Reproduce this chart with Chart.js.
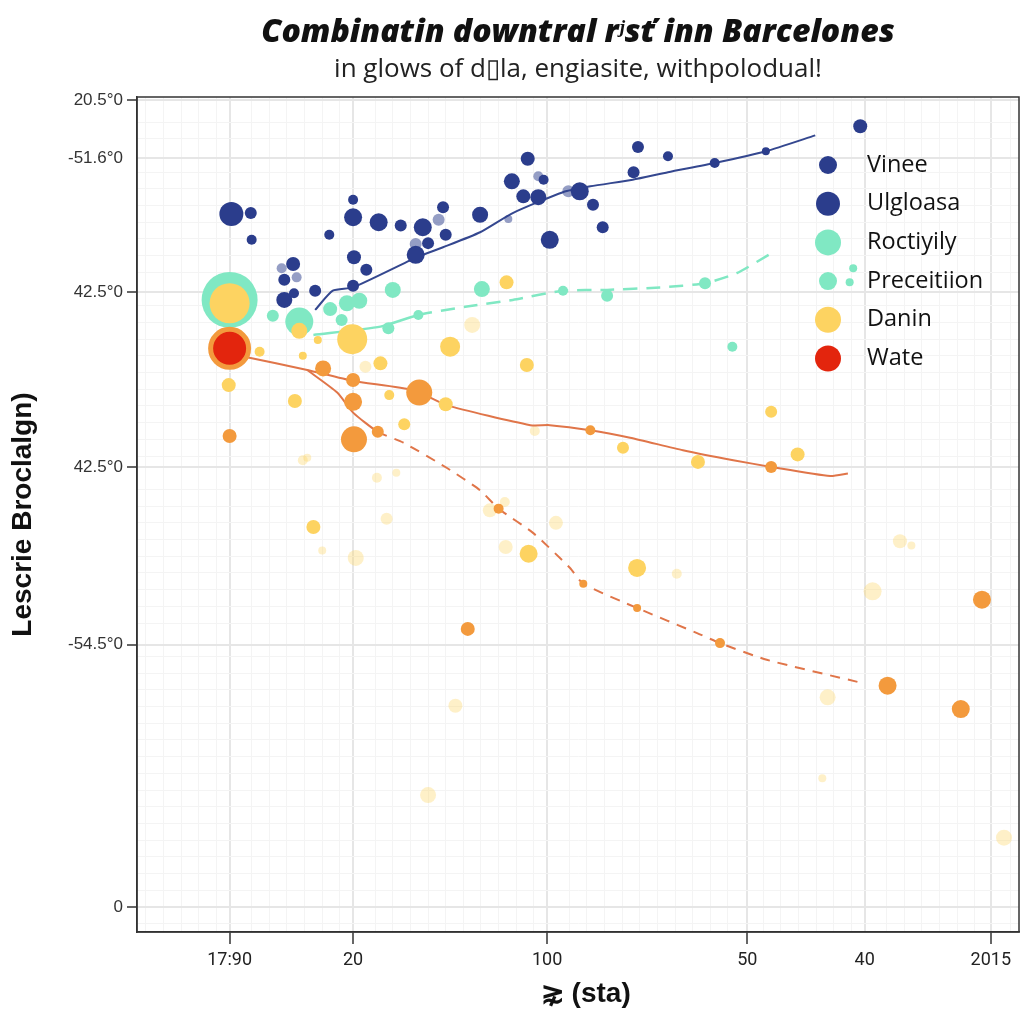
<!DOCTYPE html>
<html>
<head>
<meta charset="utf-8">
<script src="https://cdn.jsdelivr.net/npm/chart.js@4.4.1/dist/chart.umd.min.js"></script>
<style>
  html, body { margin: 0; padding: 0; background: #fff; }
  #wrap { width: 1024px; height: 1024px; }
</style>
</head>
<body>
<div id="wrap"><canvas id="chart" width="1024" height="1024"></canvas></div>
<script>
// axis ticks
const xTickValues = [10.5, 24.5, 46.5, 69.2, 82.5, 96.8];
const xTickLabels = ["17:90", "20", "100", "50", "40", "2015"];
const yTickValues = [99.6, 92.7, 76.6, 55.7, 34.4, 3.0];
const yTickLabels = ["20.5°0", "-51.6°0", "42.5°0", "42.5°0", "-54.5°0", "0"];

// Vinee (small navy)
const vineeX = [12.9, 13.0, 21.8, 24.5, 29.9, 34.7, 33.0, 35.0, 46.1, 51.7, 52.8, 26.0, 24.5, 20.2, 16.7, 17.8, 56.8, 60.2, 56.3, 65.5, 71.3];
const vineeY = [86.1, 82.9, 83.5, 87.7, 84.6, 86.8, 82.5, 83.5, 90.1, 87.1, 84.4, 79.3, 77.4, 76.8, 78.1, 76.5, 94.0, 92.9, 91.0, 92.1, 93.5];
const vineeR = [6, 5, 5, 5, 6, 6, 6, 6, 5, 6, 6, 6, 6, 6, 6, 5, 6, 5, 6, 5, 4];

// Ulgloasa (large navy)
const ulgX = [10.7, 24.5, 27.4, 32.4, 31.6, 38.9, 44.3, 42.5, 43.8, 45.5, 46.8, 50.2, 24.6, 17.7, 16.7, 82.0];
const ulgY = [86.0, 85.6, 85.0, 84.4, 81.1, 85.9, 92.6, 89.9, 88.1, 88.0, 82.9, 88.7, 80.8, 80.0, 75.7, 96.5];
const ulgR = [12, 9, 9, 9, 9, 8, 7, 8, 7, 8, 9, 9, 7, 7, 8, 7];

// faded navy
const navyFadeX = [34.2, 31.6, 42.1, 45.5, 48.9, 16.4, 18.1];
const navyFadeY = [85.3, 82.4, 85.4, 90.5, 88.7, 79.5, 78.4];
const navyFadeR = [6, 6, 4, 5, 6, 5, 5];

// Roctiyily (large mint)
const roctX = [10.5, 18.4, 29.0, 39.1, 23.8, 25.2];
const roctY = [75.7, 73.1, 76.9, 77.0, 75.3, 75.6];
const roctR = [28, 14, 8, 8, 8, 8];

// Preceitiion (small mint)
const precX = [15.4, 21.9, 23.2, 31.9, 28.5, 48.3, 53.3, 64.4, 67.5, 81.2, 80.8];
const precY = [73.8, 74.6, 73.3, 73.9, 72.3, 76.8, 76.2, 77.7, 70.1, 79.5, 77.8];
const precR = [6, 7, 6, 5, 6, 5, 6, 6, 5, 4, 4];

// Danin (yellow)
const daninX = [10.5, 24.4, 35.5, 41.9, 44.2, 27.6, 18.8, 20.5, 10.4, 17.9, 35.0, 28.6, 30.3, 55.1, 63.6, 71.9, 74.9, 13.9, 20.0, 44.4, 56.7, 18.4];
const daninY = [75.3, 71.0, 70.1, 77.8, 67.9, 68.1, 69.0, 70.9, 65.5, 63.6, 63.2, 64.3, 60.8, 58.0, 56.3, 62.3, 57.2, 69.5, 48.5, 45.3, 43.6, 72.0];
const daninR = [20, 15, 10, 7, 7, 7, 4, 4, 7, 7, 7, 5, 6, 6, 7, 6, 7, 5, 7, 9, 9, 8];

// pale yellow
const paleX = [38.0, 45.1, 25.9, 18.8, 21.0, 24.8, 28.3, 27.2, 29.4, 19.3, 40.0, 41.7, 41.8, 47.5, 61.2, 36.1, 86.5, 87.8, 83.4, 78.3, 33.0, 77.7, 98.3];
const paleY = [72.7, 60.0, 67.7, 56.5, 45.7, 44.8, 49.5, 54.4, 55.0, 56.8, 50.5, 51.5, 46.1, 49.0, 42.9, 27.1, 46.8, 46.3, 40.8, 28.1, 16.4, 18.4, 11.3];
const paleR = [8, 5, 6, 5, 4, 8, 6, 5, 4, 4, 7, 5, 7, 7, 5, 7, 7, 4, 9, 8, 8, 4, 8];

// orange
const orangeX = [21.1, 24.5, 32.0, 24.5, 10.5, 24.6, 27.3, 51.4, 71.9, 41.0, 37.5, 50.6, 56.7, 66.1, 85.1, 93.4, 95.8];
const orangeY = [67.5, 66.1, 64.6, 63.5, 59.4, 59.0, 59.9, 60.1, 55.7, 50.7, 36.3, 41.7, 38.8, 34.6, 29.5, 26.7, 39.8];
const orangeR = [8, 7, 13, 9, 7, 13, 6, 5, 6, 5, 7, 4, 4, 5, 9, 9, 9];

// Wate (red)
const wateX = [10.5];
const wateY = [69.9];
const wateR = [19];

// trend lines
const navyLineX = [20.2, 22.2, 24.5, 31.7, 34.7, 38.9, 42.6, 48.3, 51.4, 56.2, 60.2, 65.5, 71.3, 76.9];
const navyLineY = [74.5, 76.8, 77.2, 80.8, 82.0, 83.8, 86.1, 88.6, 89.3, 90.1, 91.0, 92.1, 93.5, 95.4];
const mintLineX = [20.0, 27.6, 31.9, 37.4, 42.6, 48.3, 53.3, 59.3, 64.4, 68.0, 72.1];
const mintLineY = [71.5, 72.5, 73.9, 74.9, 75.7, 76.8, 76.9, 77.2, 77.7, 78.9, 81.4];
const orangeLineX = [12.2, 19.3, 24.5, 31.3, 35.1, 44.6, 46.8, 51.4, 55.9, 61.9, 67.6, 71.9, 78.6, 80.6];
const orangeLineY = [68.9, 67.3, 66.0, 64.9, 63.1, 60.7, 60.7, 60.1, 59.2, 57.7, 56.5, 55.7, 54.6, 54.9];
const orangeDashX = [19.3, 22.7, 24.5, 27.3, 30.2, 35.1, 38.9, 41.0, 44.9, 49.1, 50.6, 56.7, 63.5, 66.1, 71.4, 82.3];
const orangeDashY = [67.3, 64.6, 62.2, 59.9, 58.6, 55.6, 52.9, 50.7, 47.8, 43.6, 41.7, 38.8, 35.8, 34.6, 32.6, 29.8];

const legendLabels = ["Vinee", "Ulgloasa", "Roctiyily", "Preceitiion", "Danin", "Wate"];

const NAVY = "#2b3d8c";
const MINT = "#80e8c3";
const YELLOW = "#fdd361";
const ORANGE = "#f39a3d";
const RED = "#e3250d";
const LINE_OR = "#e07549";

function pts(xs, ys, rs) {
  return xs.map((x, i) => rs ? { x: x, y: ys[i], r: rs[i] } : { x: x, y: ys[i] });
}

function ticksFor(values) {
  const list = values.map(v => ({ value: v, main: true }));
  for (let v = 1; v < 100; v += 2) {
    if (values.every(m => Math.abs(m - v) > 0.9)) list.push({ value: v, main: false });
  }
  return list.sort((a, b) => a.value - b.value);
}

function bubbleSet(label, data, color, order, border) {
  return {
    type: "bubble",
    label: label,
    data: data,
    backgroundColor: color,
    borderColor: border || color,
    borderWidth: border ? 5 : 0,
    order: order
  };
}

function lineSet(data, color, dash, order, width, solidUntil) {
  return {
    type: "line",
    data: data,
    borderColor: color,
    borderWidth: width || 2,
    borderDash: dash,
    segment: solidUntil ? { borderDash: c => (c.p0DataIndex < solidUntil ? [] : dash) } : undefined,
    pointRadius: 0,
    fill: false,
    tension: 0.2,
    order: order
  };
}

function noPad(s) {
  s.paddingLeft = 0;
  s.paddingRight = 0;
  s.paddingTop = 0;
  s.paddingBottom = 0;
}

const textPlugin = {
  id: "texts",
  beforeDraw(chart) {
    const c = chart.ctx;
    const a = chart.chartArea;
    const cx = (a.left + a.right) / 2;
    c.save();
    c.fillStyle = "#111";
    c.textAlign = "center";
    c.textBaseline = "middle";
    c.font = "italic 800 32px 'Open Sans'";
    c.fillText("Combinatin downtral r\u02B2s\u0165 inn Barcelones", cx, 33);
    c.font = "26px 'Open Sans'";
    c.fillStyle = "#222";
    c.fillText("in glows of d\u25AFla, engiasite, withpolodual!", cx, 70);
    c.restore();
  },
  afterDraw(chart) {
    const c = chart.ctx;
    const a = chart.chartArea;
    c.save();
    c.strokeStyle = "#333";
    c.lineWidth = 1.5;
    c.strokeRect(a.left, a.top, a.right - a.left, a.bottom - a.top);
    // legend
    const cols = [NAVY, NAVY, MINT, MINT, YELLOW, RED];
    const sizes = [9, 12, 13, 9, 13, 13];
    c.font = "23.5px 'Open Sans'";
    c.textBaseline = "middle";
    c.textAlign = "left";
    legendLabels.forEach((t, i) => {
      const y = 165 + i * 38.7;
      c.beginPath();
      c.fillStyle = cols[i];
      c.arc(828, y, sizes[i], 0, Math.PI * 2);
      c.fill();
      c.fillStyle = "#111";
      c.fillText(t, 867, y);
    });
    c.restore();
  }
};

new Chart(document.getElementById("chart"), {
  type: "bubble",
  data: {
    datasets: [
      bubbleSet("Wate", pts(wateX, wateY, wateR), RED, 1, ORANGE),
      bubbleSet("Danin", pts(daninX, daninY, daninR), YELLOW, 2),
      bubbleSet("Roctiyily", pts(roctX, roctY, roctR), MINT, 4),
      bubbleSet("Preceitiion", pts(precX, precY, precR), MINT, 3),
      bubbleSet("Vinee", pts(vineeX, vineeY, vineeR), NAVY, 5),
      bubbleSet("Ulgloasa", pts(ulgX, ulgY, ulgR), NAVY, 5),
      bubbleSet("", pts(navyFadeX, navyFadeY, navyFadeR), "rgba(43,61,140,0.5)", 6),
      bubbleSet("", pts(orangeX, orangeY, orangeR), ORANGE, 5),
      bubbleSet("", pts(paleX, paleY, paleR), "rgba(253,211,97,0.35)", 8),
      lineSet(pts(navyLineX, navyLineY), "#34478f", [], 7, 2),
      lineSet(pts(mintLineX, mintLineY), MINT, [14, 9], 7, 2.5, 2),
      lineSet(pts(orangeLineX, orangeLineY), LINE_OR, [], 7, 2),
      lineSet(pts(orangeDashX, orangeDashY), LINE_OR, [10, 8], 7, 2, 3)
    ]
  },
  options: {
    responsive: false,
    animation: false,
    events: [],
    layout: { autoPadding: false, padding: { top: 97, right: 5, left: 0, bottom: 0 } },
    plugins: {
      legend: { display: false },
      title: { display: false },
      tooltip: { enabled: false }
    },
    scales: {
      x: {
        type: "linear",
        min: 0,
        max: 100,
        afterFit: s => { s.height = 92; noPad(s); },
        afterBuildTicks: s => { s.ticks = ticksFor(xTickValues); },
        ticks: {
          autoSkip: false,
          maxRotation: 0,
          padding: 6,
          color: "#222",
          font: { family: "Roboto", size: 18 },
          callback: v => {
            const i = xTickValues.indexOf(v);
            return i >= 0 ? xTickLabels[i] : "";
          }
        },
        grid: {
          color: c => (c.tick && c.tick.main ? "#e6e6e6" : "#f4f4f4"),
          lineWidth: c => (c.tick && c.tick.main ? 2 : 1),
          tickColor: c => (c.tick && c.tick.main && c.tick.value !== 82.5 ? "#333" : "rgba(0,0,0,0)"),
          tickLength: 12,
          tickWidth: 1.5
        },
        border: { color: "#333", width: 1.5 },
        title: {
          display: true,
          text: "  \u22E7 (sta)",
          color: "#111",
          font: { family: "'Liberation Sans Narrow', 'Liberation Sans'", size: 28, weight: "bold" },
          padding: { top: 0, bottom: 13 }
        }
      },
      y: {
        type: "linear",
        min: 0,
        max: 100,
        afterFit: s => { s.width = 137; noPad(s); },
        afterBuildTicks: s => { s.ticks = ticksFor(yTickValues); },
        ticks: {
          autoSkip: false,
          padding: 4,
          color: "#333",
          font: { family: "'Liberation Sans'", size: 17 },
          callback: v => {
            const i = yTickValues.indexOf(v);
            return i >= 0 ? yTickLabels[i] : "";
          }
        },
        grid: {
          color: c => (c.tick && c.tick.main ? "#e6e6e6" : "#f4f4f4"),
          lineWidth: c => (c.tick && c.tick.main ? 2 : 1),
          tickColor: c => (c.tick && c.tick.main && c.tick.value !== 92.7 ? "#333" : "rgba(0,0,0,0)"),
          tickLength: 10,
          tickWidth: 1.5
        },
        border: { color: "#333", width: 1.5 },
        title: {
          display: true,
          text: "Lescrie Broclalgn)",
          color: "#111",
          font: { family: "'Liberation Sans Narrow', 'Liberation Sans'", size: 28, weight: "bold" },
          padding: { top: 6, bottom: 0 }
        }
      }
    }
  },
  plugins: [textPlugin]
});
</script>
</body>
</html>
